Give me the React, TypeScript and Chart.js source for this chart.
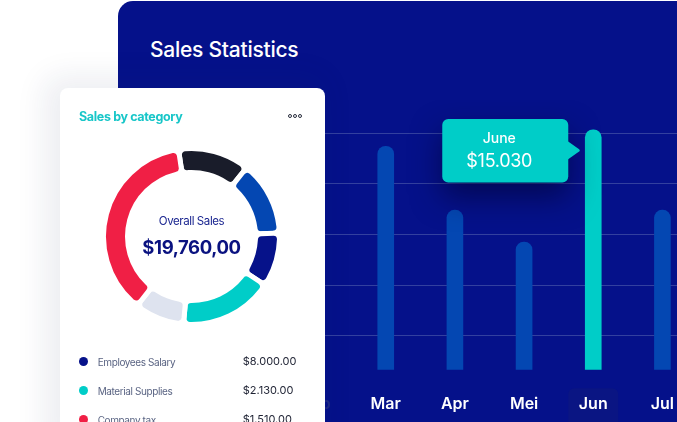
import React, { useEffect, useRef } from "react";
import { Chart, registerables } from "chart.js";
Chart.register(...registerables);

const FONT = "Inter, 'Noto Sans', sans-serif";

// ---- Sales statistics (bar chart) ----
const months = ["Feb", "Mar", "Apr", "Mei", "Jun", "Jul"];
const monthNames = ["February", "March", "April", "May", "June", "July"];
const sales = [11500, 14000, 10000, 8000, 15030, 10000];
const gridValues = [2120, 5290, 8470, 11640, 14820];
const yMax = 16900;
const highlightIndex = 4;
const dimLabelIndex = 0;

// ---- Sales by category (doughnut) ----
const categoryLabels = ["Marketing", "Operations", "Employees Salary", "Material Supplies", "Utilities", "Company tax"];
const categoryValues = [2590, 2690, 1965, 3390, 1805, 7320];
const categoryColors = ["#191C2A", "#0447B2", "#06128A", "#00CDC8", "#DEE3EF", "#F01F45"];

const legendLabels = ["Employees Salary", "Material Supplies", "Company tax"];
const legendValues = ["$8.000.00", "$2.130.00", "$1.510.00"];
const legendColors = ["#06128A", "#00CDC8", "#F01F45"];

const overallLabel = "Overall Sales";
const overallValue = "$19,760,00";

const PANEL = "#05118A";
const BAR = "#0447B2";
const TEAL = "#00CDC8";

function money(v: number) {
  return "$" + String(v).replace(/\B(?=(\d{3})+(?!\d))/g, ".");
}

function BarChart() {
  const ref = useRef<HTMLCanvasElement>(null);
  useEffect(() => {
    const canvas = ref.current!;
    const highlightPlugin = {
      id: "labelHighlight",
      beforeDraw(chart: any) {
        const x = chart.scales.x.getPixelForValue(highlightIndex);
        const top = chart.chartArea.bottom + 18.5;
        const ctx = chart.ctx;
        ctx.save();
        ctx.fillStyle = "#0A1583";
        ctx.beginPath();
        ctx.roundRect(x - 25, top, 50, 70, 6);
        ctx.fill();
        ctx.restore();
      },
    };
    const tooltipPlugin = {
      id: "fixedTooltip",
      afterDatasetsDraw(chart: any) {
        const bar = chart.getDatasetMeta(0).data[highlightIndex];
        const { x, y, width } = bar.getProps(["x", "y", "width"], true);
        const ctx = chart.ctx;
        const boxW = 126;
        const boxH = 63.5;
        const right = x - width / 2 - 17;
        const caretY = y + 20.5;
        const left = right - boxW;
        const top = caretY - 31.4;
        ctx.save();
        ctx.shadowColor = "rgba(0,0,40,0.55)";
        ctx.shadowBlur = 30;
        ctx.shadowOffsetY = 14;
        ctx.fillStyle = TEAL;
        ctx.beginPath();
        ctx.roundRect(left, top, boxW, boxH, 6);
        ctx.fill();
        ctx.shadowColor = "transparent";
        ctx.beginPath();
        ctx.moveTo(right - 2, caretY - 8.5);
        ctx.lineTo(right + 10, caretY);
        ctx.lineTo(right - 2, caretY + 8.5);
        ctx.closePath();
        ctx.lineJoin = "round";
        ctx.lineWidth = 3;
        ctx.strokeStyle = TEAL;
        ctx.fill();
        ctx.stroke();
        ctx.fillStyle = "#ffffff";
        ctx.textAlign = "center";
        ctx.textBaseline = "middle";
        ctx.font = `500 14px ${FONT}`;
        ctx.fillText(monthNames[highlightIndex], left + 57, top + 20);
        ctx.font = `400 18px ${FONT}`;
        (ctx as any).letterSpacing = "-0.3px";
        ctx.fillText(money(sales[highlightIndex]), left + 57, top + 42.4);
        ctx.restore();
      },
    };
    const chart = new Chart(canvas, {
      type: "bar",
      data: {
        labels: months,
        datasets: [
          {
            data: sales,
            backgroundColor: sales.map((_, i) => (i === highlightIndex ? TEAL : BAR)),
            barThickness: 16,
            borderRadius: 8,
            borderSkipped: "start",
          },
        ],
      },
      options: {
        responsive: false,
        animation: false,
        events: [],
        layout: { padding: { left: 0, right: 0, top: 0, bottom: 20 } },
        plugins: { legend: { display: false }, tooltip: { enabled: false } },
        scales: {
          x: {
            grid: { display: false, drawTicks: true, tickLength: 25 },
            border: { display: false },
            ticks: {
              padding: 0,
              color: (c: any) => (c.index === dimLabelIndex ? "#1E2A86" : "#ffffff"),
              font: { family: FONT, size: 16, weight: 600 },
            },
          },
          y: {
            min: 0,
            max: yMax,
            afterBuildTicks: (s: any) => {
              s.ticks = gridValues.map((v) => ({ value: v }));
            },
            ticks: { display: false },
            grid: { color: "#33409F", lineWidth: 1, drawTicks: false },
            border: { display: false },
          },
        },
      },
      plugins: [highlightPlugin, tooltipPlugin],
    } as any);
    return () => chart.destroy();
  }, []);
  return (
    <canvas
      ref={ref}
      width={415}
      height={334}
      style={{ position: "absolute", left: 282, top: 100, width: 415, height: 334, zIndex: 2 }}
    />
  );
}

function Doughnut() {
  const ref = useRef<HTMLCanvasElement>(null);
  useEffect(() => {
    const chart = new Chart(ref.current!, {
      type: "doughnut",
      data: {
        labels: categoryLabels,
        datasets: [
          {
            data: categoryValues,
            backgroundColor: categoryColors,
            borderColor: "#ffffff",
            borderWidth: 5,
            borderRadius: 6,
            hoverOffset: 0,
          },
        ],
      },
      options: {
        responsive: false,
        animation: false,
        events: [],
        cutout: "72.7%",
        rotation: -8.5,
        layout: { padding: 0 },
        plugins: { legend: { display: false }, tooltip: { enabled: false } },
      },
    } as any);
    return () => chart.destroy();
  }, []);
  return (
    <canvas
      ref={ref}
      width={181}
      height={181}
      style={{ position: "absolute", left: 41, top: 58, width: 181, height: 181 }}
    />
  );
}

export default function App() {
  return (
    <div
      style={{
        position: "fixed",
        left: 0,
        top: 0,
        width: 677,
        height: 422,
        overflow: "hidden",
        background: "#ffffff",
        fontFamily: FONT,
      }}
    >
      <div
        style={{
          position: "absolute",
          left: 118,
          top: 1,
          width: 620,
          height: 470,
          background: PANEL,
          borderTopLeftRadius: 15,
          zIndex: 1,
        }}
      />
      <div
        style={{
          position: "absolute",
          left: 150,
          top: 37,
          height: 26,
          lineHeight: "26px",
          fontSize: 21,
          fontWeight: 500,
          letterSpacing: "-0.25px",
          color: "#ffffff",
          zIndex: 2,
          whiteSpace: "nowrap",
        }}
      >
        Sales Statistics
      </div>
      <BarChart />
      <div
        style={{
          position: "absolute",
          left: 60,
          top: 88,
          width: 265,
          height: 360,
          background: "#ffffff",
          borderRadius: 8,
          boxShadow: "-8px -4px 30px 8px rgba(30,40,90,0.08)",
          zIndex: 3,
        }}
      >
        <div
          style={{
            position: "absolute",
            left: 19,
            top: 20,
            height: 18,
            lineHeight: "18px",
            fontSize: 12.5,
            fontWeight: 700,
            letterSpacing: "-0.35px",
            color: "#17C6C8",
            whiteSpace: "nowrap",
          }}
        >
          Sales by category
        </div>
        {[0, 1, 2].map((i) => (
          <div
            key={i}
            style={{
              position: "absolute",
              left: 227.5 + i * 5.3,
              top: 25.8,
              width: 2.4,
              height: 2.4,
              border: "1.3px solid #2A2E3E",
              borderRadius: "50%",
            }}
          />
        ))}
        <Doughnut />
        <div
          style={{
            position: "absolute",
            left: 0,
            width: 265,
            textAlign: "center",
            top: 124,
            height: 18,
            lineHeight: "18px",
            fontSize: 11.5,
            fontWeight: 400,
            letterSpacing: "-0.4px",
            color: "#1B2690",
            whiteSpace: "nowrap",
            transform: "translateX(-1px)",
          }}
        >
          {overallLabel}
        </div>
        <div
          style={{
            position: "absolute",
            left: 0,
            width: 265,
            textAlign: "center",
            top: 146,
            height: 26,
            lineHeight: "26px",
            fontSize: 18.5,
            fontWeight: 700,
            letterSpacing: "-0.4px",
            color: "#0A1280",
            whiteSpace: "nowrap",
            transform: "translateX(-1px)",
          }}
        >
          {overallValue}
        </div>
        {legendLabels.map((label, i) => {
          const cy = 273.7 + i * 29;
          return (
            <React.Fragment key={label}>
              <div
                style={{
                  position: "absolute",
                  left: 18.6,
                  top: cy - 4.7,
                  width: 9.4,
                  height: 9.4,
                  borderRadius: "50%",
                  background: legendColors[i],
                }}
              />
              <div
                style={{
                  position: "absolute",
                  left: 37.7,
                  top: cy - 8,
                  height: 16,
                  lineHeight: "16px",
                  fontSize: 10,
                  letterSpacing: "-0.4px",
                  color: "#5A6483",
                  whiteSpace: "nowrap",
                }}
              >
                {label}
              </div>
              <div
                style={{
                  position: "absolute",
                  left: 182.7,
                  top: cy - 8.5,
                  height: 17,
                  lineHeight: "17px",
                  fontSize: 11,
                  color: "#1E2233",
                  whiteSpace: "nowrap",
                }}
              >
                {legendValues[i]}
              </div>
            </React.Fragment>
          );
        })}
      </div>
    </div>
  );
}
